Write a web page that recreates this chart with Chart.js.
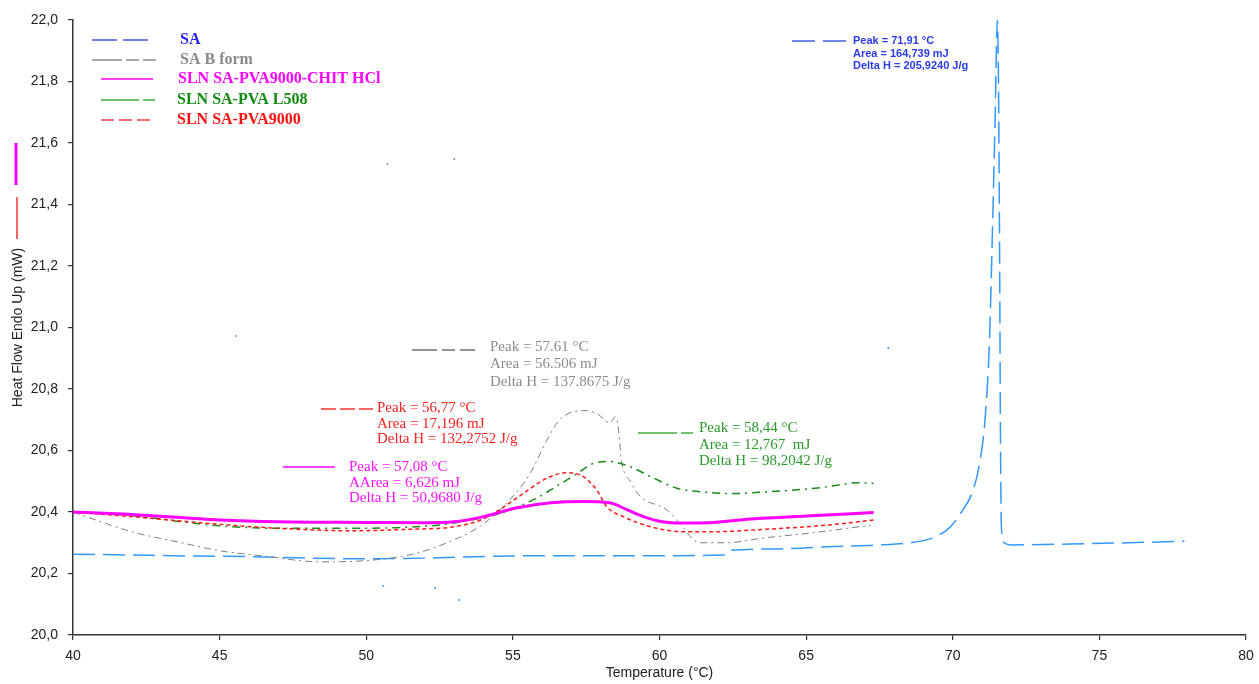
<!DOCTYPE html>
<html>
<head>
<meta charset="utf-8">
<script src="https://cdn.jsdelivr.net/npm/chart.js@4/dist/chart.umd.min.js"></script>
<style>
  body { margin: 0; background: #fff; }
  canvas { display: block; }
</style>
</head>
<body>
<canvas id="dsc" width="1259" height="684"></canvas>
<script>
//Dados (Temperatura em °C, Heat Flow em mW)
const saTemp = [40, 42, 44, 46, 48, 50, 52, 54, 56, 58, 60, 62.2, 62.4, 64, 66, 67.5, 68.5, 69.3, 69.9, 70.3, 70.65, 70.9, 71.1, 71.25, 71.35, 71.45, 71.52, 71.56, 71.6, 71.63, 71.66, 71.75, 72, 74, 76, 77.9]
const saHF = [20.263, 20.26, 20.257, 20.255, 20.25, 20.248, 20.25, 20.255, 20.258, 20.258, 20.258, 20.26, 20.275, 20.28, 20.288, 20.293, 20.3, 20.315, 20.35, 20.4, 20.46, 20.55, 20.7, 20.95, 21.3, 21.7, 22.0, 21.8, 21.2, 20.6, 20.35, 20.3, 20.293, 20.296, 20.3, 20.305]

const formTemp = [40, 42, 43.7, 45, 46.5, 48.4, 50, 51.6, 52.75, 53.9, 54.9, 55.6, 56.16, 56.6, 57.4, 57.87, 58.3, 58.5, 58.6, 58.7, 59.0, 59.35, 60.25, 60.8, 61.15, 61.4, 62.3, 63.5, 65, 66, 67.2]
const formHF = [20.4, 20.336, 20.3, 20.274, 20.257, 20.238, 20.242, 20.263, 20.3, 20.355, 20.44, 20.527, 20.634, 20.7, 20.73, 20.72, 20.69, 20.71, 20.67, 20.57, 20.5, 20.45, 20.407, 20.35, 20.31, 20.3, 20.3, 20.315, 20.33, 20.342, 20.357]

const chitTemp = [40, 42, 45, 47, 50, 52, 53, 54, 55.1, 56.3, 57.4, 58.3, 58.9, 59.45, 60.1, 60.8, 61.4, 63.1, 65, 67.3]
const chitHF = [20.4, 20.392, 20.374, 20.368, 20.366, 20.365, 20.368, 20.385, 20.413, 20.43, 20.434, 20.43, 20.407, 20.385, 20.368, 20.364, 20.364, 20.377, 20.387, 20.398]

const l508Temp = [40, 42, 43.9, 45, 47, 49, 51, 52.5, 53.9, 54.58, 55.7, 56.6, 57.2, 57.75, 58.3, 59.0, 59.7, 60.6, 61.4, 62.5, 63.7, 65.4, 66.8, 67.3]
const l508HF = [20.4, 20.388, 20.366, 20.355, 20.347, 20.347, 20.349, 20.358, 20.38, 20.396, 20.44, 20.49, 20.526, 20.558, 20.564, 20.547, 20.515, 20.477, 20.466, 20.46, 20.466, 20.478, 20.495, 20.493]

const pvaTemp = [40, 42, 45, 47, 49.5, 51.5, 53, 53.9, 54.7, 55.5, 56.16, 56.84, 57.4, 57.87, 58.2, 58.76, 59.7, 60.8, 62, 63.1, 65, 66, 67.3]
const pvaHF = [20.4, 20.385, 20.36, 20.347, 20.339, 20.344, 20.352, 20.374, 20.417, 20.47, 20.51, 20.528, 20.515, 20.47, 20.417, 20.385, 20.352, 20.336, 20.336, 20.341, 20.352, 20.36, 20.374]

//Pontinhos soltos do grafico original
const blueDotTemp = [50.58, 52.35, 53.17, 67.8]
const blueDotHF = [20.159, 20.153, 20.114, 20.933]
const grayDotTemp = [45.57, 50.72, 53.0]
const grayDotHF = [20.972, 21.532, 21.548]

const xTicks = [40, 45, 50, 55, 60, 65, 70, 75, 80]

const pts = (t, v) => t.map((x, i) => ({ x: x, y: v[i] }))

//Legenda e anotacoes (desenhadas por cima)
const legendItems = [
    { text: 'SA', color: '#2424e6', line: '#4057e0', y: 40, x: 180, lx: 92, lw: 56, dash: [25, 6] },
    { text: 'SA B form', color: '#8a8a8a', line: '#8a8a8a', y: 60, x: 180, lx: 92, lw: 64, dash: [30, 4, 13, 4, 14, 4] },
    { text: 'SLN SA-PVA9000-CHIT HCl', color: '#ff00ff', line: '#ff00ff', y: 79, x: 178, lx: 101, lw: 52, dash: [] },
    { text: 'SLN SA-PVA L508', color: '#108a10', line: '#3cae3c', y: 100, x: 177, lx: 101, lw: 54, dash: [38, 4, 12, 4] },
    { text: 'SLN SA-PVA9000', color: '#ff1010', line: '#ff4040', y: 120, x: 177, lx: 101, lw: 50, dash: [13, 5] }
]

const notes = [
    { lines: ['Peak = 71,91 °C', 'Area = 164,739 mJ', 'Delta H = 205,9240 J/g'], color: '#2b3be8', line: '#4060e0', font: 'bold 11px "Liberation Sans", Arial, sans-serif', x: 853, y: 41, gap: 12.5, lx: 792, lw: 55, ly: 41, dash: [23, 8] },
    { lines: ['Peak = 57.61 °C', 'Area = 56.506 mJ', 'Delta H = 137.8675 J/g'], color: '#8c8c8c', line: '#707070', font: '15px "Liberation Serif", "Times New Roman", serif', x: 490, y: 347, gap: 17.3, lx: 412, lw: 63, ly: 350, dash: [25, 5, 13, 5, 15] },
    { lines: ['Peak = 56,77 °C', 'Area = 17,196 mJ', 'Delta H = 132,2752 J/g'], color: '#ff2020', line: '#ff3030', font: '15px "Liberation Serif", "Times New Roman", serif', x: 377, y: 408, gap: 15.7, lx: 321, lw: 52, ly: 409, dash: [15, 4] },
    { lines: ['Peak = 57,08 °C', 'AArea = 6,626 mJ', 'Delta H = 50,9680 J/g'], color: '#ff10ff', line: '#ff00ff', font: '15px "Liberation Serif", "Times New Roman", serif', x: 349, y: 467, gap: 15.7, lx: 283, lw: 52, ly: 467, dash: [] },
    { lines: ['Peak = 58,44 °C', 'Area = 12,767  mJ', 'Delta H = 98,2042 J/g'], color: '#2a9a2a', line: '#40b040', font: '15px "Liberation Serif", "Times New Roman", serif', x: 699, y: 428, gap: 16.7, lx: 638, lw: 55, ly: 433, dash: [39, 4, 12] }
]

const overlayPlugin = {
    id: 'overlay',
    afterDraw(chart) {
        const ctx = chart.ctx
        ctx.save()

        //legenda
        legendItems.forEach(item => {
            ctx.beginPath()
            ctx.setLineDash(item.dash)
            ctx.strokeStyle = item.line
            ctx.lineWidth = 1.5
            ctx.moveTo(item.lx, item.y)
            ctx.lineTo(item.lx + item.lw, item.y)
            ctx.stroke()
            ctx.setLineDash([])
            ctx.font = 'bold 16px "Liberation Serif", "Times New Roman", serif'
            ctx.fillStyle = item.color
            ctx.textBaseline = 'middle'
            ctx.textAlign = 'left'
            ctx.fillText(item.text, item.x, item.y)
        })

        //anotacoes dos picos
        notes.forEach(n => {
            ctx.beginPath()
            ctx.setLineDash(n.dash)
            ctx.strokeStyle = n.line
            ctx.lineWidth = 1.3
            ctx.moveTo(n.lx, n.ly)
            ctx.lineTo(n.lx + n.lw, n.ly)
            ctx.stroke()
            ctx.setLineDash([])
            ctx.font = n.font
            ctx.fillStyle = n.color
            ctx.textBaseline = 'middle'
            n.lines.forEach((txt, i) => ctx.fillText(txt, n.x, n.y + i * n.gap))
        })

        //tracinhos na margem esquerda
        ctx.lineWidth = 3
        ctx.strokeStyle = '#ff00ff'
        ctx.beginPath(); ctx.moveTo(16, 143); ctx.lineTo(16, 185); ctx.stroke()
        ctx.lineWidth = 1.5
        ctx.strokeStyle = '#ff3030'
        ctx.beginPath(); ctx.moveTo(17, 197); ctx.lineTo(17, 239); ctx.stroke()

        ctx.restore()
    }
}

const tickFont = { family: '"Liberation Sans", Arial, sans-serif', size: 14 }

new Chart(document.getElementById('dsc'), {
    type: 'line',
    data: {
        datasets: [
            {
                label: 'SLN SA-PVA9000-CHIT HCl',
                data: pts(chitTemp, chitHF),
                borderColor: '#ff00ff',
                borderWidth: 3,
                order: 0
            },
            {
                label: 'SLN SA-PVA9000',
                data: pts(pvaTemp, pvaHF),
                borderColor: '#ff1a1a',
                borderWidth: 1.5,
                borderDash: [4, 3],
                order: 1
            },
            {
                label: 'SLN SA-PVA L508',
                data: pts(l508Temp, l508HF),
                borderColor: '#1d8a1d',
                borderWidth: 1.5,
                borderDash: [8, 5, 2, 5],
                order: 2
            },
            {
                label: 'SA B form',
                data: pts(formTemp, formHF),
                borderColor: '#7d7d7d',
                borderWidth: 1,
                borderDash: [7, 4, 2, 4],
                order: 3
            },
            {
                label: 'SA',
                data: pts(saTemp, saHF),
                borderColor: '#3399ff',
                borderWidth: 1.5,
                borderDash: [22, 8],
                order: 4
            },
            {
                label: 'dots blue',
                data: pts(blueDotTemp, blueDotHF),
                showLine: false,
                pointRadius: 1,
                pointBackgroundColor: '#3399ff',
                pointBorderWidth: 0,
                order: 5
            },
            {
                label: 'dots gray',
                data: pts(grayDotTemp, grayDotHF),
                showLine: false,
                pointRadius: 1,
                pointBackgroundColor: '#8a8a8a',
                pointBorderWidth: 0,
                order: 5
            }
        ]
    },
    options: {
        responsive: false,
        animation: false,
        layout: { padding: { left: 0, top: 20, right: 13, bottom: 0 } },
        elements: {
            point: { radius: 0 },
            line: { cubicInterpolationMode: 'monotone', fill: false }
        },
        plugins: {
            legend: { display: false },
            tooltip: { enabled: false }
        },
        scales: {
            x: {
                type: 'linear',
                min: 40,
                max: 80,
                afterBuildTicks: s => { s.ticks = xTicks.map(v => ({ value: v })) },
                afterFit: s => { s.height = 49; s.paddingRight = 0; s.paddingLeft = 0 },
                ticks: { font: tickFont, color: '#222', padding: 8, maxRotation: 0 },
                grid: { drawOnChartArea: false, tickLength: 5, color: '#333', lineWidth: 1.2 },
                border: { color: '#333', width: 1.5 },
                title: {
                    display: true,
                    text: 'Temperature (°C)',
                    color: '#222',
                    font: tickFont,
                    padding: { top: 0, bottom: 2 }
                }
            },
            y: {
                min: 20,
                max: 22,
                afterFit: s => { s.width = 73 },
                ticks: {
                    stepSize: 0.2,
                    font: tickFont,
                    color: '#222',
                    padding: 10,
                    callback: v => v.toFixed(1).replace('.', ',')
                },
                grid: { drawOnChartArea: false, tickLength: 5, color: '#333', lineWidth: 1.2 },
                border: { color: '#333', width: 1.5 },
                title: {
                    display: true,
                    text: 'Heat Flow Endo Up (mW)',
                    color: '#222',
                    font: tickFont,
                    padding: { top: 10, bottom: 0 }
                }
            }
        }
    },
    plugins: [overlayPlugin]
})
</script>
</body>
</html>
